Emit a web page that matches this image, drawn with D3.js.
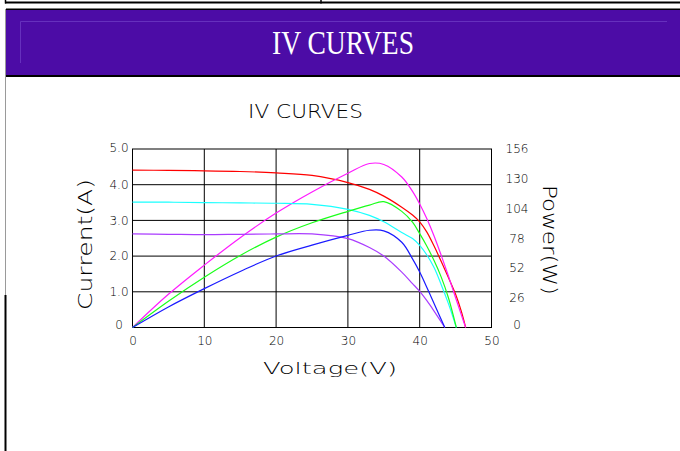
<!DOCTYPE html>
<html>
<head>
    <meta charset="utf-8">
    <script src="https://cdn.jsdelivr.net/npm/d3@7/dist/d3.min.js"></script>
    <title>IV CURVES</title>
    <style>
        body { margin: 0; background: #fff; }
        svg { display: block; }
    </style>
</head>
<body>
    <div id="chart"></div>
    <script>
        // irradiance level 1 (red IV / magenta PV)
        var voltHigh = [0, 5, 10, 15, 20, 25, 30, 33, 35, 37.5, 39, 40, 41, 42, 43, 44, 45, 45.8, 46.4];
        var currHigh = [4.41, 4.40, 4.39, 4.37, 4.33, 4.26, 4.06, 3.87, 3.68, 3.37, 3.15, 2.96, 2.67, 2.28, 1.85, 1.40, 0.93, 0.45, 0];
        var powHigh = [0, 29, 54.5, 78.5, 100, 118.5, 134.8, 143.3, 142.5, 131.5, 119, 108, 95, 80, 63, 45, 26, 11, 0];

        // level 2 (cyan IV / green PV)
        var voltMid = [0, 5, 10, 15, 20, 25, 30, 33, 35, 37.5, 39, 40, 41, 42, 43, 44, 45.1];
        var currMid = [3.51, 3.51, 3.50, 3.49, 3.48, 3.45, 3.31, 3.14, 2.96, 2.66, 2.49, 2.30, 2.03, 1.68, 1.20, 0.67, 0];
        var powMid = [0, 23, 44, 63, 79, 91.5, 101.5, 107, 110, 101.5, 92, 82, 71, 58.5, 44, 26, 0];

        // level 3 (violet IV / blue PV)
        var voltLow = [0, 5, 10, 15, 20, 25, 30, 33, 35, 37.5, 39, 40, 41, 42, 43.5];
        var currLow = [2.62, 2.61, 2.60, 2.61, 2.62, 2.62, 2.49, 2.24, 2.00, 1.55, 1.23, 1.01, 0.75, 0.46, 0];
        var powLow = [0, 18, 34, 49, 62.5, 72, 80.5, 85, 84.5, 74.5, 60, 48.5, 35, 21, 0];

        var voltTicks = [0, 10, 20, 30, 40, 50];
        var currTicks = [0, 1, 2, 3, 4, 5];
        var powTicks = [0, 26, 52, 78, 104, 130, 156];

        var W = 680, H = 451;
        var font = "'DejaVu Sans', sans-serif";

        var svg = d3.select('#chart').append('svg').attr('width', W).attr('height', H);

        // page frame bits
        svg.append('line').attr('x1', 5).attr('y1', 2.5).attr('x2', W).attr('y2', 2.5)
            .attr('stroke', '#000').attr('stroke-width', 2);
        svg.append('line').attr('x1', 5.5).attr('y1', 0).attr('x2', 5.5).attr('y2', 3.5)
            .attr('stroke', '#000').attr('stroke-width', 1.5);
        svg.append('line').attr('x1', 321).attr('y1', 0).attr('x2', 321).attr('y2', 3.5)
            .attr('stroke', '#000').attr('stroke-width', 1.5);

        // header band
        svg.append('rect').attr('x', 6).attr('y', 8.5).attr('width', W - 6).attr('height', 68.5).attr('fill', '#000');
        svg.append('rect').attr('x', 6).attr('y', 10).attr('width', W - 6).attr('height', 65).attr('fill', '#4c0ca6');
        svg.append('path').attr('d', 'M20.5,63 V21.5 H667').attr('fill', 'none')
            .attr('stroke', '#6630bd').attr('stroke-width', 1);
        svg.append('text').attr('x', 343).attr('y', 54).attr('text-anchor', 'middle')
            .attr('font-family', "'Liberation Serif', serif").attr('font-size', 34)
            .attr('textLength', 142).attr('lengthAdjust', 'spacingAndGlyphs')
            .attr('fill', '#fff').text('IV CURVES');

        // left page edge
        svg.append('line').attr('x1', 5.5).attr('y1', 9).attr('x2', 5.5).attr('y2', 295)
            .attr('stroke', '#9a9a9a').attr('stroke-width', 1);
        svg.append('line').attr('x1', 5.5).attr('y1', 295).attr('x2', 5.5).attr('y2', H)
            .attr('stroke', '#000').attr('stroke-width', 2);

        var x = d3.scaleLinear().domain([0, 50]).range([132.5, 491.5]);
        var yI = d3.scaleLinear().domain([0, 5]).range([327.5, 149]);
        var yP = d3.scaleLinear().domain([0, 156]).range([327.5, 149]);

        // grid
        var grid = svg.append('g').attr('stroke', '#000').attr('stroke-width', 1);
        grid.selectAll('.vx').data(voltTicks.slice(1, -1)).enter().append('line')
            .attr('x1', function (d) { return x(d); }).attr('x2', function (d) { return x(d); })
            .attr('y1', yI(5)).attr('y2', yI(0));
        grid.selectAll('.hy').data(currTicks.slice(1, -1)).enter().append('line')
            .attr('x1', x(0)).attr('x2', x(50))
            .attr('y1', function (d) { return yI(d); }).attr('y2', function (d) { return yI(d); });
        svg.append('rect').attr('x', x(0)).attr('y', yI(5))
            .attr('width', x(50) - x(0)).attr('height', yI(0) - yI(5))
            .attr('fill', 'none').attr('stroke', '#000').attr('stroke-width', 1);

        // curves
        var series = [
            { v: voltHigh, val: currHigh, y: yI, color: '#ff0000' },
            { v: voltHigh, val: powHigh, y: yP, color: '#ff1aff' },
            { v: voltMid, val: currMid, y: yI, color: '#1affff' },
            { v: voltMid, val: powMid, y: yP, color: '#1aff1a' },
            { v: voltLow, val: currLow, y: yI, color: '#aa3cff' },
            { v: voltLow, val: powLow, y: yP, color: '#1a1aff' }
        ];
        series.forEach(function (s) {
            var line = d3.line()
                .x(function (d, i) { return x(s.v[i]); })
                .y(function (d) { return s.y(d); })
                .curve(d3.curveCatmullRom.alpha(0.5));
            svg.append('path').datum(s.val).attr('d', line)
                .attr('fill', 'none').attr('stroke', s.color).attr('stroke-width', 1.2);
        });

        // axes (labels only)
        var ax = svg.append('g').attr('transform', 'translate(' + x(0) + ',0)')
            .call(d3.axisLeft(yI).tickValues(currTicks).tickSize(0)
                .tickFormat(function (d) { return d === 0 ? '0' : d.toFixed(1); }));
        ax.selectAll('text').attr('x', -13.5).attr('text-anchor', 'middle');

        var ax2 = svg.append('g').attr('transform', 'translate(' + x(50) + ',0)')
            .call(d3.axisRight(yP).tickValues(powTicks).tickSize(0));
        ax2.selectAll('text').attr('x', 25.5).attr('text-anchor', 'middle');

        var ax3 = svg.append('g').attr('transform', 'translate(0,' + yI(0) + ')')
            .call(d3.axisBottom(x).tickValues(voltTicks).tickSize(0));
        ax3.selectAll('text').attr('y', 9);

        [ax, ax2, ax3].forEach(function (g) {
            g.select('.domain').remove();
            g.attr('font-family', font).attr('font-size', 12).attr('font-weight', 200);
            g.selectAll('text').attr('fill', '#000');
        });
        // end labels pulled in a bit
        ax.selectAll('.tick').filter(function (d) { return d === 0; }).select('text').attr('dy', '0.1em');
        ax.selectAll('.tick').filter(function (d) { return d === 5; }).select('text').attr('dy', '0.18em');
        ax2.selectAll('.tick').filter(function (d) { return d === 0; }).select('text').attr('dy', '0.1em');
        ax2.selectAll('.tick').filter(function (d) { return d === 156; }).select('text').attr('dy', '0.25em');

        // titles
        svg.append('text').attr('x', 305.5).attr('y', 118).attr('text-anchor', 'middle')
            .attr('font-family', font).attr('font-size', 19).attr('font-weight', 200)
            .attr('textLength', 115).attr('lengthAdjust', 'spacingAndGlyphs').text('IV CURVES');

        svg.append('text').attr('transform', 'translate(92,244.5) rotate(-90)').attr('text-anchor', 'middle')
            .attr('font-family', font).attr('font-size', 20).attr('font-weight', 200)
            .attr('textLength', 131).attr('lengthAdjust', 'spacingAndGlyphs').text('Current(A)');

        svg.append('text').attr('transform', 'translate(542.5,240) rotate(90)').attr('text-anchor', 'middle')
            .attr('font-family', font).attr('font-size', 20).attr('font-weight', 200)
            .attr('textLength', 110).attr('lengthAdjust', 'spacingAndGlyphs').text('Power(W)');

        svg.append('text').attr('x', 330).attr('y', 374).attr('text-anchor', 'middle')
            .attr('font-family', font).attr('font-size', 16.5).attr('font-weight', 200)
            .attr('textLength', 134).attr('lengthAdjust', 'spacingAndGlyphs').text('Voltage(V)');
    </script>
</body>
</html>
